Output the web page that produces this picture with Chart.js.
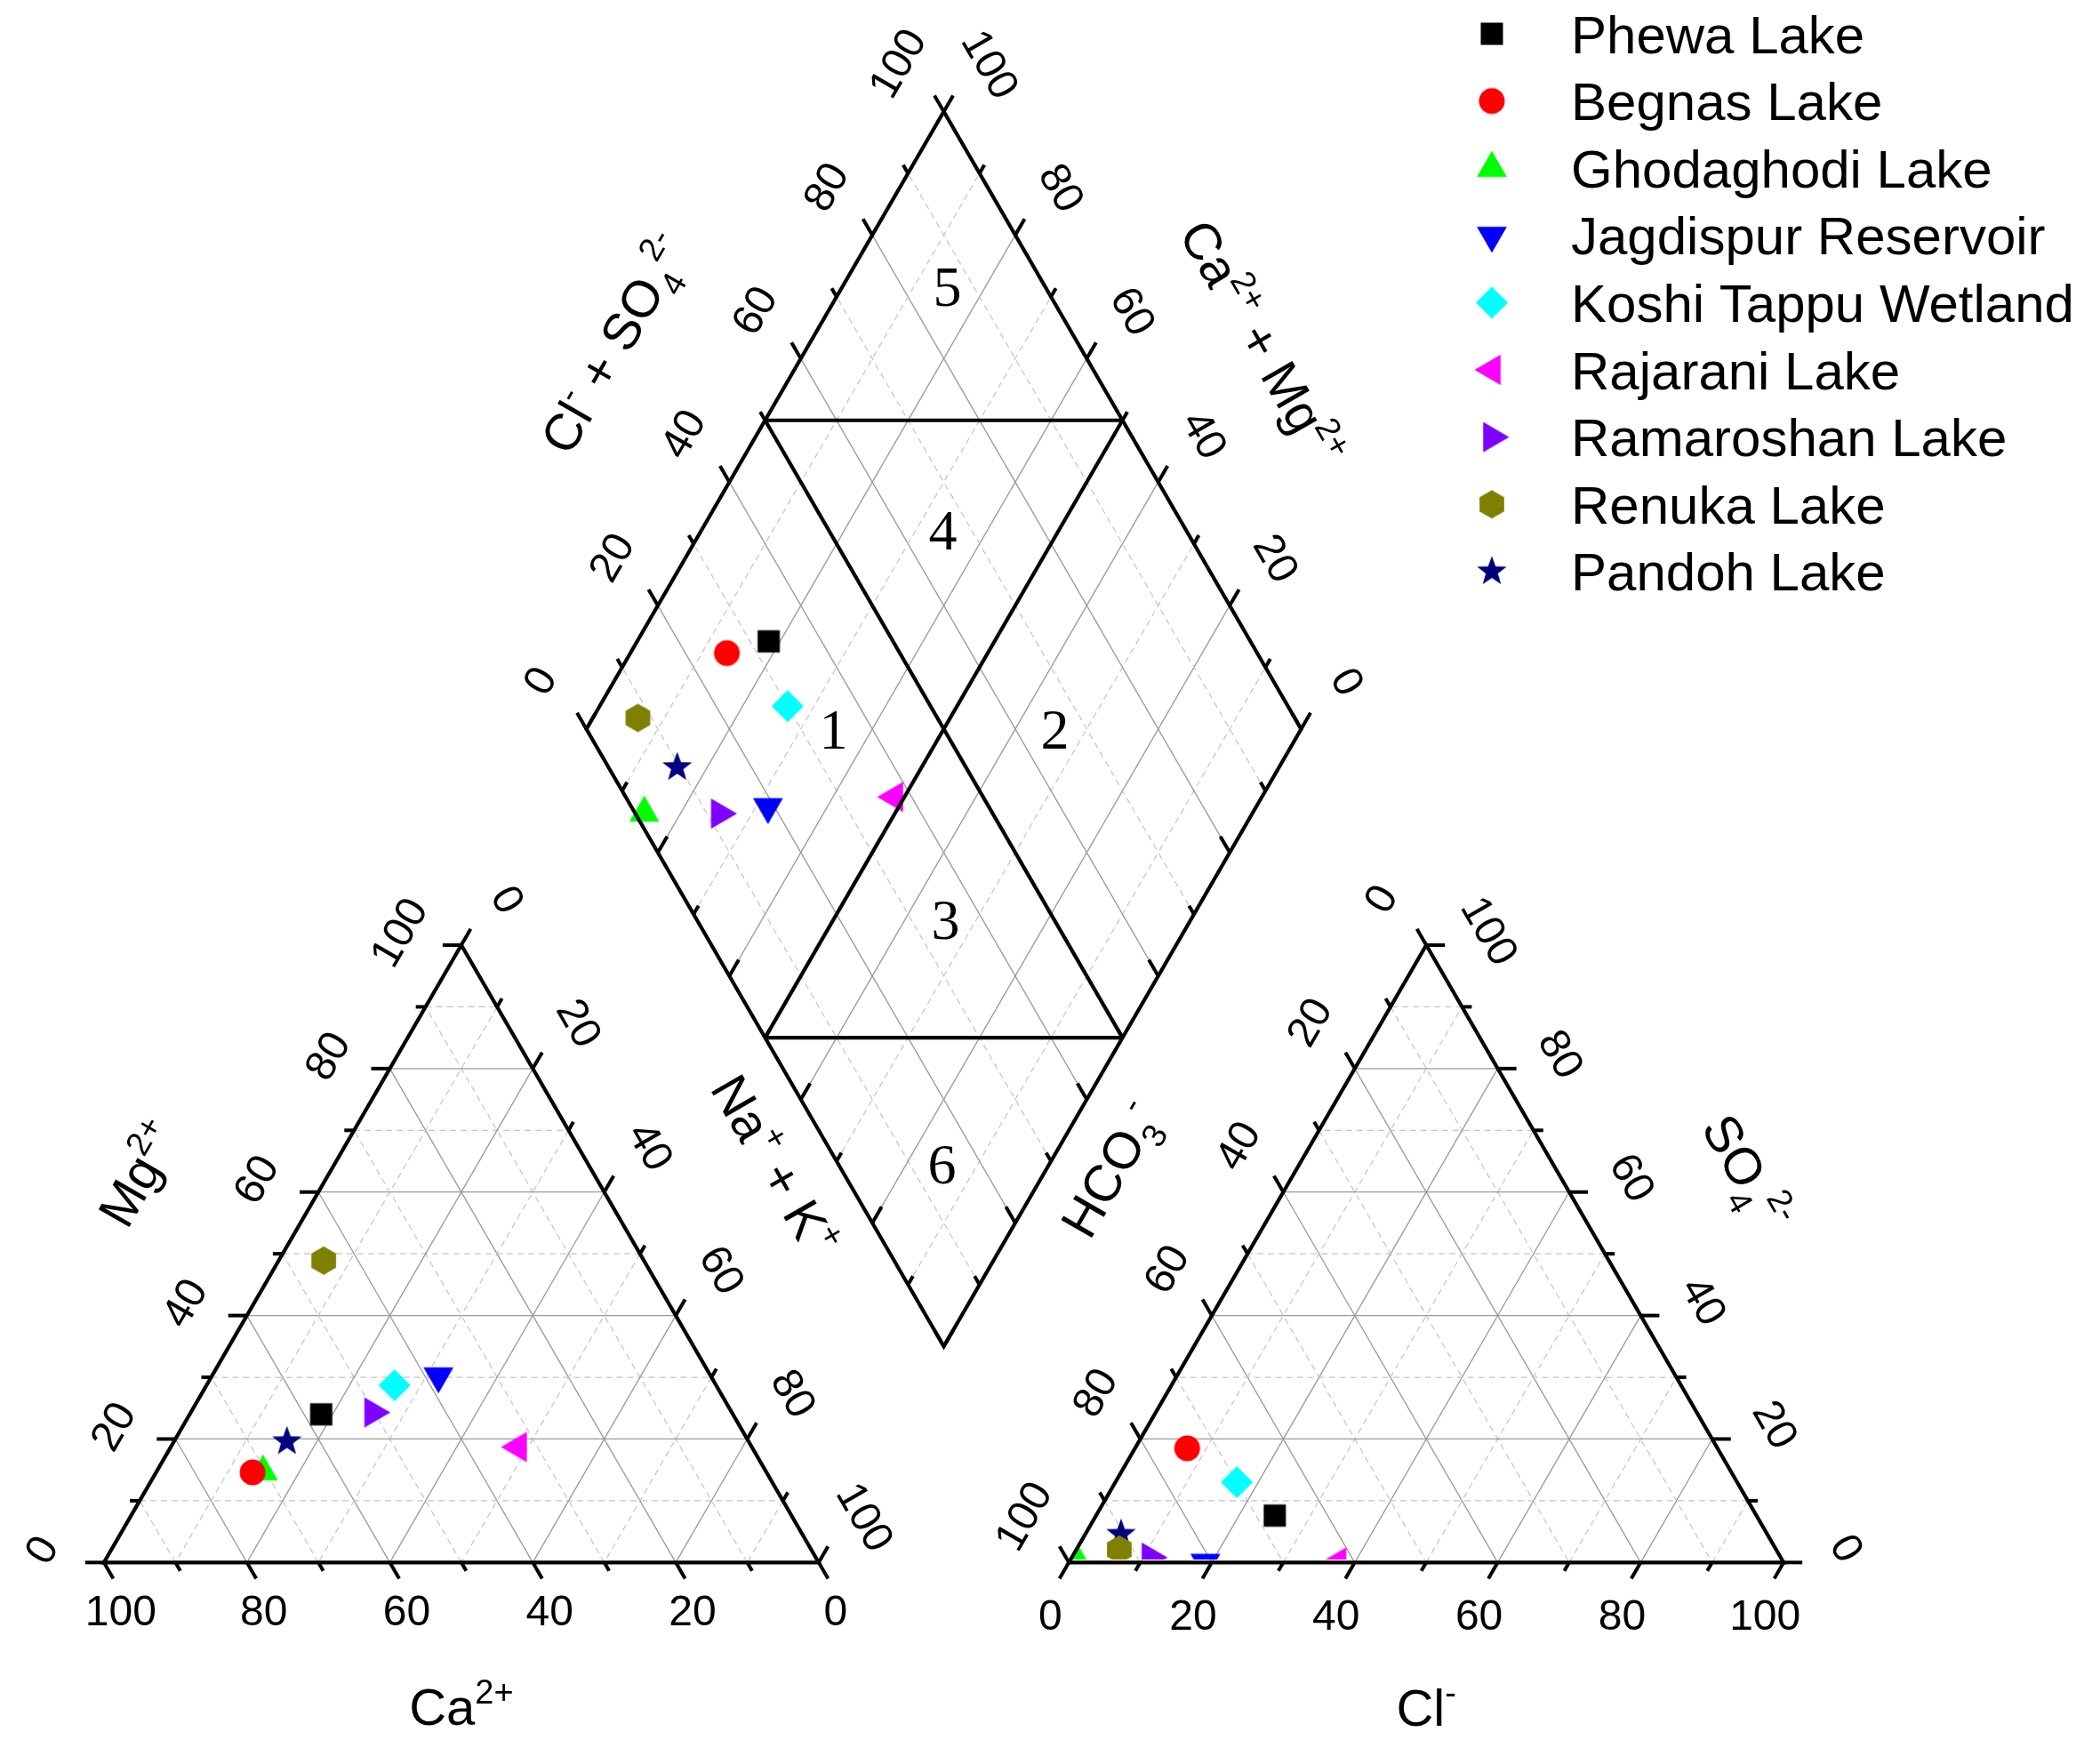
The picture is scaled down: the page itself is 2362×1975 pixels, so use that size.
<!DOCTYPE html>
<html>
<head>
<meta charset="utf-8">
<title>Piper diagram</title>
<script src="https://cdn.jsdelivr.net/npm/chart.js@4.4.1/dist/chart.umd.min.js"></script>
<style>
  html, body { margin: 0; padding: 0; background: #ffffff; }
  #wrap { width: 2362px; height: 1975px; }
  canvas { display: block; }
</style>
</head>
<body>
<div id="wrap"><canvas id="piper" width="2362" height="1975"></canvas></div>
<script>
// SITES
const sites = ['Phewa Lake', 'Begnas Lake', 'Ghodaghodi Lake', 'Jagdispur Reservoir', 'Koshi Tappu Wetland',
               'Rajarani Lake', 'Ramaroshan Lake', 'Renuka Lake', 'Pandoh Lake'];
const shapes = ['square', 'circle', 'triUp', 'triDown', 'diamond', 'triLeft', 'triRight', 'hexagon', 'star'];
const colors = ['#000000', '#ff0000', '#00ff00', '#0000ff', '#00ffff', '#ff00ff', '#8000ff', '#808000', '#000080'];

// CATIONS (% meq/L)
const ca  = [57.6, 71.9, 70.4, 38.1, 45.0, 32.7, 50.2, 44.8, 64.6];
const mg  = [24.0, 14.6, 14.7, 30.2, 28.7, 18.7, 24.3, 48.9, 19.6];
const naK = [18.4, 13.5, 14.9, 31.7, 26.3, 48.6, 25.5, 6.3, 15.8];

// ANIONS (% meq/L)
const hco3 = [67.4, 74.2, 98.7, 80.9, 70.0, 62.4, 88.2, 91.9, 90.4];
const cl   = [25.0, 7.3, 1.3, 19.1, 17.0, 37.6, 11.0, 6.0, 5.0];
const so4  = [7.6, 18.5, 0.0, 0.0, 13.0, 0.0, 0.8, 2.1, 4.6];

// AXIS TICKS
const tickValues = [0, 10, 20, 30, 40, 50, 60, 70, 80, 90, 100];
const labelStep = 20;

// GEOMETRY (data units: one triangle side = 100)
const SIN60 = Math.sqrt(3) / 2;
const GAP = 35;
const X_MIN = -12.55, X_MAX = 277.27;
const Y_MIN = -25.15, Y_MAX = 217.18;
const CANVAS_H = 1975;

// vertex order: component k has its scale on the edge from vertex k-1 to vertex k
const triL = [{x: 0, y: 0}, {x: 50, y: 100 * SIN60}, {x: 100, y: 0}];                     // Ca, Mg, Na+K
const triR = [{x: 100 + GAP, y: 0}, {x: 200 + GAP, y: 0}, {x: 150 + GAP, y: 100 * SIN60}]; // HCO3, Cl, SO4
const dBottom = {x: 100 + GAP / 2, y: GAP * SIN60};

function tern(verts, v) {
  const s = v[0] + v[1] + v[2];
  return {
    x: (v[0] * verts[0].x + v[1] * verts[1].x + v[2] * verts[2].x) / s,
    y: (v[0] * verts[0].y + v[1] * verts[1].y + v[2] * verts[2].y) / s
  };
}
// c = Ca+Mg, s = Cl+SO4
function dia(c, s) {
  return { x: dBottom.x + (s - c) / 2, y: dBottom.y + (c + s) * SIN60 };
}

// MARKERS
function makeMarker(shape, color) {
  const S = 46;
  const cv = document.createElement('canvas');
  cv.width = S; cv.height = S;
  const g = cv.getContext('2d');
  g.translate(S / 2, S / 2);
  g.fillStyle = color;
  g.beginPath();
  const poly = (r, start, n) => {
    for (let i = 0; i < n; i++) {
      const a = (start + i * 360 / n) * Math.PI / 180;
      if (i === 0) g.moveTo(r * Math.cos(a), r * Math.sin(a)); else g.lineTo(r * Math.cos(a), r * Math.sin(a));
    }
    g.closePath();
  };
  switch (shape) {
    case 'square': g.rect(-12.5, -12.5, 25, 25); break;
    case 'circle': g.arc(0, 0, 14.5, 0, Math.PI * 2); break;
    case 'diamond': poly(18, -90, 4); break;
    case 'triUp': poly(19.5, -90, 3); break;
    case 'triDown': poly(19.5, 90, 3); break;
    case 'triLeft': poly(19.5, 180, 3); break;
    case 'triRight': poly(19.5, 0, 3); break;
    case 'hexagon': poly(16, -90, 6); break;
    case 'star':
      for (let i = 0; i < 10; i++) {
        const r = i % 2 === 0 ? 17.5 : 7.2;
        const a = (-90 + i * 36) * Math.PI / 180;
        if (i === 0) g.moveTo(r * Math.cos(a), r * Math.sin(a)); else g.lineTo(r * Math.cos(a), r * Math.sin(a));
      }
      g.closePath();
      break;
  }
  g.fill();
  return cv;
}

// clip marks at the triangle base line, like the original plot
const basePx = CANVAS_H * (Y_MAX - 0) / (Y_MAX - Y_MIN);
const clipBottom = -(CANVAS_H - basePx);

const datasets = sites.map((name, i) => {
  const cation = tern(triL, [ca[i], mg[i], naK[i]]);
  const anion = tern(triR, [hco3[i], cl[i], so4[i]]);
  const sumC = ca[i] + mg[i] + naK[i], sumA = hco3[i] + cl[i] + so4[i];
  const d = dia((ca[i] + mg[i]) / sumC * 100, (cl[i] + so4[i]) / sumA * 100);
  return {
    label: name,
    data: [cation, d, anion],
    pointStyle: makeMarker(shapes[i], colors[i]),
    pointRadius: 15,
    showLine: false,
    clip: { left: false, right: false, top: false, bottom: clipBottom }
  };
});

// DRAWING HELPERS
const SANS = '"Liberation Sans", Arial, sans-serif';
const SERIF = '"Liberation Serif", "Times New Roman", serif';

function px(chart, p) {
  return [chart.scales.x.getPixelForValue(p.x), chart.scales.y.getPixelForValue(p.y)];
}
function line(g, a, b) {
  g.beginPath(); g.moveTo(a[0], a[1]); g.lineTo(b[0], b[1]); g.stroke();
}
function gridStyle(g, t) {
  if (t % 20 === 0) { g.setLineDash([]); g.strokeStyle = '#9a9a9a'; g.lineWidth = 1.3; }
  else { g.setLineDash([7, 5]); g.strokeStyle = '#c4c4c4'; g.lineWidth = 1.2; }
}
function edgeVec(k, t, onEdge) {
  const v = [0, 0, 0];
  v[k] = t;
  if (onEdge) v[(k + 2) % 3] = 100 - t; else v[(k + 1) % 3] = 100 - t;
  return v;
}
function textAt(g, str, x, y, rot, font) {
  g.save();
  g.translate(x, y);
  g.rotate(rot * Math.PI / 180);
  g.font = font;
  g.textAlign = 'center';
  g.textBaseline = 'middle';
  g.fillText(str, 0, 0);
  g.restore();
}
// parts: [text, kind] with kind '', 'sup' or 'sub'
function richText(g, parts, x, y, rot, size) {
  const big = size + 'px ' + SANS, small = Math.round(size * 0.66) + 'px ' + SANS;
  g.save();
  g.translate(x, y);
  g.rotate(rot * Math.PI / 180);
  g.textBaseline = 'alphabetic';
  g.textAlign = 'left';
  let w = 0;
  const widths = parts.map(p => {
    g.font = p[1] === '' ? big : small;
    const pw = g.measureText(p[0]).width;
    w += pw;
    return pw;
  });
  let cx = -w / 2;
  const base = size * 0.358;
  parts.forEach((p, i) => {
    g.font = p[1] === '' ? big : small;
    let dy = 0;
    if (p[1] === 'sup') dy = -size * 0.42;
    if (p[1] === 'sub') dy = size * 0.28;
    g.fillText(p[0], cx, base + dy);
    cx += widths[i];
  });
  g.restore();
}

// label offsets (px) and rotation of the tick numbers on each scale
const triLAxes = [ { off: [19, 57], rot: 0 }, { off: [-68, -13], rot: -60 }, { off: [50, -50], rot: 60 } ];
const triRAxes = [ { off: [-49, -51], rot: -60 }, { off: [-21, 62], rot: 0 }, { off: [69, -15], rot: 60 } ];

function drawTriGrid(chart, verts) {
  const g = chart.ctx;
  for (let k = 0; k < 3; k++) {
    tickValues.forEach(t => {
      if (t === 0 || t === 100) return;
      gridStyle(g, t);
      line(g, px(chart, tern(verts, edgeVec(k, t, true))), px(chart, tern(verts, edgeVec(k, t, false))));
    });
  }
  g.setLineDash([]);
}

function drawDiaGrid(chart) {
  const g = chart.ctx;
  tickValues.forEach(t => {
    if (t === 0 || t === 100) return;
    gridStyle(g, t);
    line(g, px(chart, dia(t, 0)), px(chart, dia(t, 100)));
    line(g, px(chart, dia(0, t)), px(chart, dia(100, t)));
  });
  g.setLineDash([]);
}

function drawTick(g, p, dir, t) {
  const len = t % labelStep === 0 ? 21 : 11;
  line(g, p, [p[0] + dir[0] * len, p[1] + dir[1] * len]);
}
function unit(a, b) {
  const dx = a[0] - b[0], dy = a[1] - b[1], l = Math.hypot(dx, dy);
  return [dx / l, dy / l];
}

function drawTriFrame(chart, verts, axes) {
  const g = chart.ctx;
  const v = verts.map(p => px(chart, p));
  g.strokeStyle = '#000'; g.lineWidth = 4.2; g.lineJoin = 'miter';
  g.beginPath(); g.moveTo(v[0][0], v[0][1]); g.lineTo(v[1][0], v[1][1]); g.lineTo(v[2][0], v[2][1]); g.closePath(); g.stroke();
  g.lineWidth = 4; g.lineCap = 'butt';
  for (let k = 0; k < 3; k++) {
    const dir = unit(px(chart, tern(verts, edgeVec(k, 50, true))), px(chart, tern(verts, edgeVec(k, 50, false))));
    tickValues.forEach(t => {
      const p = px(chart, tern(verts, edgeVec(k, t, true)));
      g.strokeStyle = '#000';
      drawTick(g, p, dir, t);
      if (t % labelStep === 0) {
        g.fillStyle = '#000';
        textAt(g, String(t), p[0] + axes[k].off[0], p[1] + axes[k].off[1], axes[k].rot, '48px ' + SANS);
      }
    });
  }
}

function drawDiaFrame(chart) {
  const g = chart.ctx;
  const B = px(chart, dia(0, 0)), L = px(chart, dia(100, 0)), T = px(chart, dia(100, 100)), R = px(chart, dia(0, 100));
  g.strokeStyle = '#000'; g.lineWidth = 4.2; g.lineJoin = 'miter';
  g.beginPath(); g.moveTo(B[0], B[1]); g.lineTo(L[0], L[1]); g.lineTo(T[0], T[1]); g.lineTo(R[0], R[1]); g.closePath(); g.stroke();
  // hydrochemical facies boundaries
  line(g, px(chart, dia(100, 50)), px(chart, dia(50, 100)));
  line(g, px(chart, dia(50, 0)), px(chart, dia(0, 50)));
  line(g, px(chart, dia(100, 50)), px(chart, dia(0, 50)));
  line(g, px(chart, dia(50, 100)), px(chart, dia(50, 0)));
  const U = unit(L, B), V = unit(R, B);
  g.lineWidth = 4;
  g.fillStyle = '#000';
  tickValues.forEach(t => {
    const ul = px(chart, dia(100, t)), ur = px(chart, dia(t, 100));
    drawTick(g, ul, U, t);
    drawTick(g, ur, V, t);
    drawTick(g, px(chart, dia(t, 0)), V, t);
    drawTick(g, px(chart, dia(0, t)), U, t);
    if (t % labelStep === 0) {
      textAt(g, String(t), ul[0] - 50, ul[1] - 53, -60, '48px ' + SANS);
      textAt(g, String(t), ur[0] + 50, ur[1] - 52, 60, '48px ' + SANS);
    }
  });
  // region numbers
  const C = px(chart, dia(50, 50));
  const regions = [['1', -124, 5], ['2', 125, 5], ['3', 2, 219], ['4', -1, -219], ['5', 4, -493], ['6', -2, 494]];
  regions.forEach(r => textAt(g, r[0], C[0] + r[1], C[1] + r[2], 0, '64px ' + SERIF));
}

function drawTitles(chart) {
  const g = chart.ctx;
  g.fillStyle = '#000';
  const at = (p, dx, dy) => { const q = px(chart, p); return [q[0] + dx, q[1] + dy]; };
  let p;
  p = at(tern(triL, [50, 50, 0]), -162, -90);  richText(g, [['Mg', ''], ['2+', 'sup']], p[0], p[1], -60, 58);
  p = at(tern(triL, [50, 0, 50]), 0, 162);     richText(g, [['Ca', ''], ['2+', 'sup']], p[0], p[1], 0, 58);
  p = at(tern(triR, [0, 50, 50]), 160, -92);   richText(g, [['SO', ''], ['4', 'sub'], ['2-', 'sup']], p[0], p[1], 60, 58);
  p = at(tern(triR, [50, 50, 0]), 0, 163);     richText(g, [['Cl', ''], ['-', 'sup']], p[0], p[1], 0, 58);
  p = at(dia(0, 0), -190, -204);               richText(g, [['Na', ''], ['+', 'sup'], [' + K', ''], ['+', 'sup']], p[0], p[1], 60, 58);
  p = at(dia(0, 0), 187, -199);                richText(g, [['HCO', ''], ['3', 'sub'], ['-', 'sup']], p[0], p[1], -60, 58);
  p = at(dia(100, 100), -371, 261);            richText(g, [['Cl', ''], ['-', 'sup'], [' + SO', ''], ['4', 'sub'], ['2-', 'sup']], p[0], p[1], -60, 58);
  p = at(dia(100, 100), 358, 260);             richText(g, [['Ca', ''], ['2+', 'sup'], [' + Mg', ''], ['2+', 'sup']], p[0], p[1], 60, 58);
}

function drawLegend(chart) {
  const g = chart.ctx;
  chart.data.datasets.forEach((ds, i) => {
    const y = 38 + i * 75.6;
    const m = ds.pointStyle;
    g.drawImage(m, 1678 - m.width / 2, y - m.height / 2);
    g.fillStyle = '#000';
    g.font = '60px ' + SANS;
    g.textAlign = 'left';
    g.textBaseline = 'alphabetic';
    g.fillText(ds.label, 1767, y + 21.5);
  });
}

const piperPlugin = {
  id: 'piper',
  beforeDatasetsDraw(chart) {
    drawTriGrid(chart, triL);
    drawTriGrid(chart, triR);
    drawDiaGrid(chart);
  },
  afterDatasetsDraw(chart) {
    drawTriFrame(chart, triL, triLAxes);
    drawTriFrame(chart, triR, triRAxes);
    drawDiaFrame(chart);
    drawTitles(chart);
    drawLegend(chart);
  }
};

// CHART
const ctx = document.getElementById('piper').getContext('2d');
const piperChart = new Chart(ctx, {
  type: 'scatter',
  data: { datasets: datasets },
  options: {
    responsive: false,
    animation: false,
    devicePixelRatio: 1,
    layout: { padding: 0 },
    plugins: { legend: { display: false }, tooltip: { enabled: false } },
    scales: {
      x: { type: 'linear', min: X_MIN, max: X_MAX, display: false },
      y: { type: 'linear', min: Y_MIN, max: Y_MAX, display: false }
    }
  },
  plugins: [piperPlugin]
});
</script>
</body>
</html>
